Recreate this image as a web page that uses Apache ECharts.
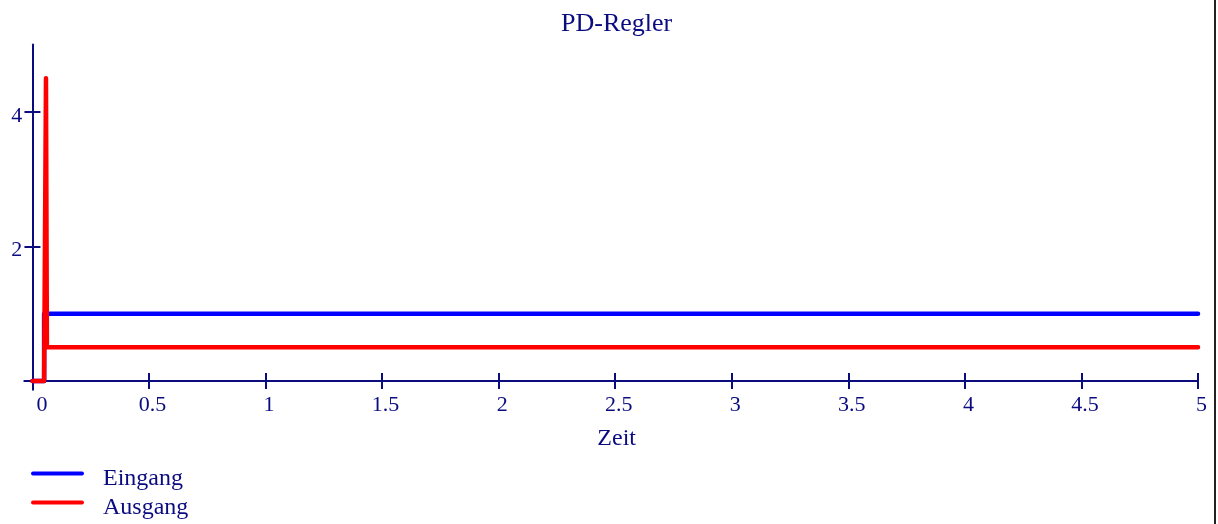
<!DOCTYPE html>
<html>
<head>
<meta charset="utf-8">
<script src="https://cdn.jsdelivr.net/npm/echarts@6/dist/echarts.min.js"></script>
<style>
  html, body { margin: 0; padding: 0; background: #fff; }
  #chart { width: 1218px; height: 524px; }
</style>
</head>
<body>
<div id="chart"></div>
<script>
// Sprungantwort eines PD-Reglers
const eingangZeit = [0, 0.05, 0.05, 5];
const eingangWert = [0, 0, 1, 1];
const ausgangZeit = [0, 0.05, 0.058, 0.062, 5];
const ausgangWert = [0, 0, 4.5, 0.5, 0.5];

const xTicks = [0, 0.5, 1, 1.5, 2, 2.5, 3, 3.5, 4, 4.5, 5];
const yTicks = [2, 4];

const navy = '#0b0b80';
const font = 'Liberation Serif';

const pairs = (xs, ys) => xs.map((x, i) => [x, ys[i]]);

// legend icon: a rounded bar sitting in the upper part of a 53x15 box
const legendIcon = 'path://M2,0 h49 a2,2 0 0 1 0,4 h-49 a2,2 0 0 1 0,-4 Z M0,15 L0.01,15 Z';

const chart = echarts.init(document.getElementById('chart'));

const baseX = {
  type: 'value', min: -0.035, max: 5, position: 'bottom',
  axisLine: { onZero: true, onZeroAxisIndex: 0, lineStyle: { color: navy, width: 2 } },
  splitLine: { show: false }
};
const baseY = {
  type: 'value', min: -0.13, max: 5, position: 'left',
  axisLine: { onZero: true, onZeroAxisIndex: 0, lineStyle: { color: navy, width: 2 } },
  splitLine: { show: false }
};

chart.setOption({
  animation: false,
  backgroundColor: '#fff',
  title: {
    text: 'PD-Regler', left: 556, top: 6,
    textStyle: { fontFamily: font, fontSize: 26, fontWeight: 'normal', color: navy }
  },
  legend: {
    orient: 'vertical', left: 31, top: 467, padding: 0,
    itemWidth: 53, itemHeight: 15, itemGap: 5,
    icon: legendIcon, itemStyle: { borderWidth: 0 },
    data: ['Eingang', 'Ausgang'],
    textStyle: { fontFamily: font, fontSize: 24, color: navy, lineHeight: 24, padding: [0, 0, 0, 14] }
  },
  grid: { left: 24.3, right: 20, top: 44.5, bottom: 134.3 },
  xAxis: [
    Object.assign({}, baseX, {
      name: 'Zeit', nameLocation: 'middle', nameGap: 37,
      nameTextStyle: { fontFamily: font, fontSize: 24, color: navy, padding: [0, 0, 0, 11] },
      axisTick: { show: true, inside: false, length: 8, customValues: xTicks, lineStyle: { color: navy, width: 2 } },
      axisLabel: {
        customValues: xTicks, margin: 5, color: navy, fontFamily: font, fontSize: 22,
        padding: [0, 0, 0, 7],
        formatter: v => v === 0 ? '{z|0}' : String(v),
        rich: { z: { fontFamily: font, fontSize: 22, color: navy, padding: [0, 0, 0, 12] } }
      }
    }),
    Object.assign({}, baseX, {
      axisLine: Object.assign({}, baseX.axisLine, { show: false }),
      axisTick: { show: true, inside: true, length: 8, customValues: xTicks, lineStyle: { color: navy, width: 2 } },
      axisLabel: { show: false }
    })
  ],
  yAxis: [
    Object.assign({}, baseY, {
      axisTick: { show: true, inside: false, length: 8, customValues: yTicks, lineStyle: { color: navy, width: 2 } },
      axisLabel: {
        customValues: yTicks, margin: 2, color: navy, fontFamily: font, fontSize: 22,
        verticalAlign: 'top', lineHeight: 8
      }
    }),
    Object.assign({}, baseY, {
      axisLine: Object.assign({}, baseY.axisLine, { show: false }),
      axisTick: { show: true, inside: true, length: 8, customValues: yTicks, lineStyle: { color: navy, width: 2 } },
      axisLabel: { show: false }
    })
  ],
  series: [
    {
      name: 'Eingang', type: 'line', symbol: 'none', z: 3,
      data: pairs(eingangZeit, eingangWert),
      itemStyle: { color: '#0000ff' },
      lineStyle: { color: '#0000ff', width: 4.5, cap: 'round', join: 'round' }
    },
    {
      name: 'Ausgang', type: 'line', symbol: 'none', z: 4,
      data: pairs(ausgangZeit, ausgangWert),
      itemStyle: { color: '#ff0000' },
      lineStyle: { color: '#ff0000', width: 4.5, cap: 'round', join: 'round' }
    }
  ],
  graphic: [
    { type: 'rect', shape: { x: 1214, y: 0, width: 2, height: 524 }, style: { fill: '#222' }, silent: true }
  ]
});
</script>
</body>
</html>
